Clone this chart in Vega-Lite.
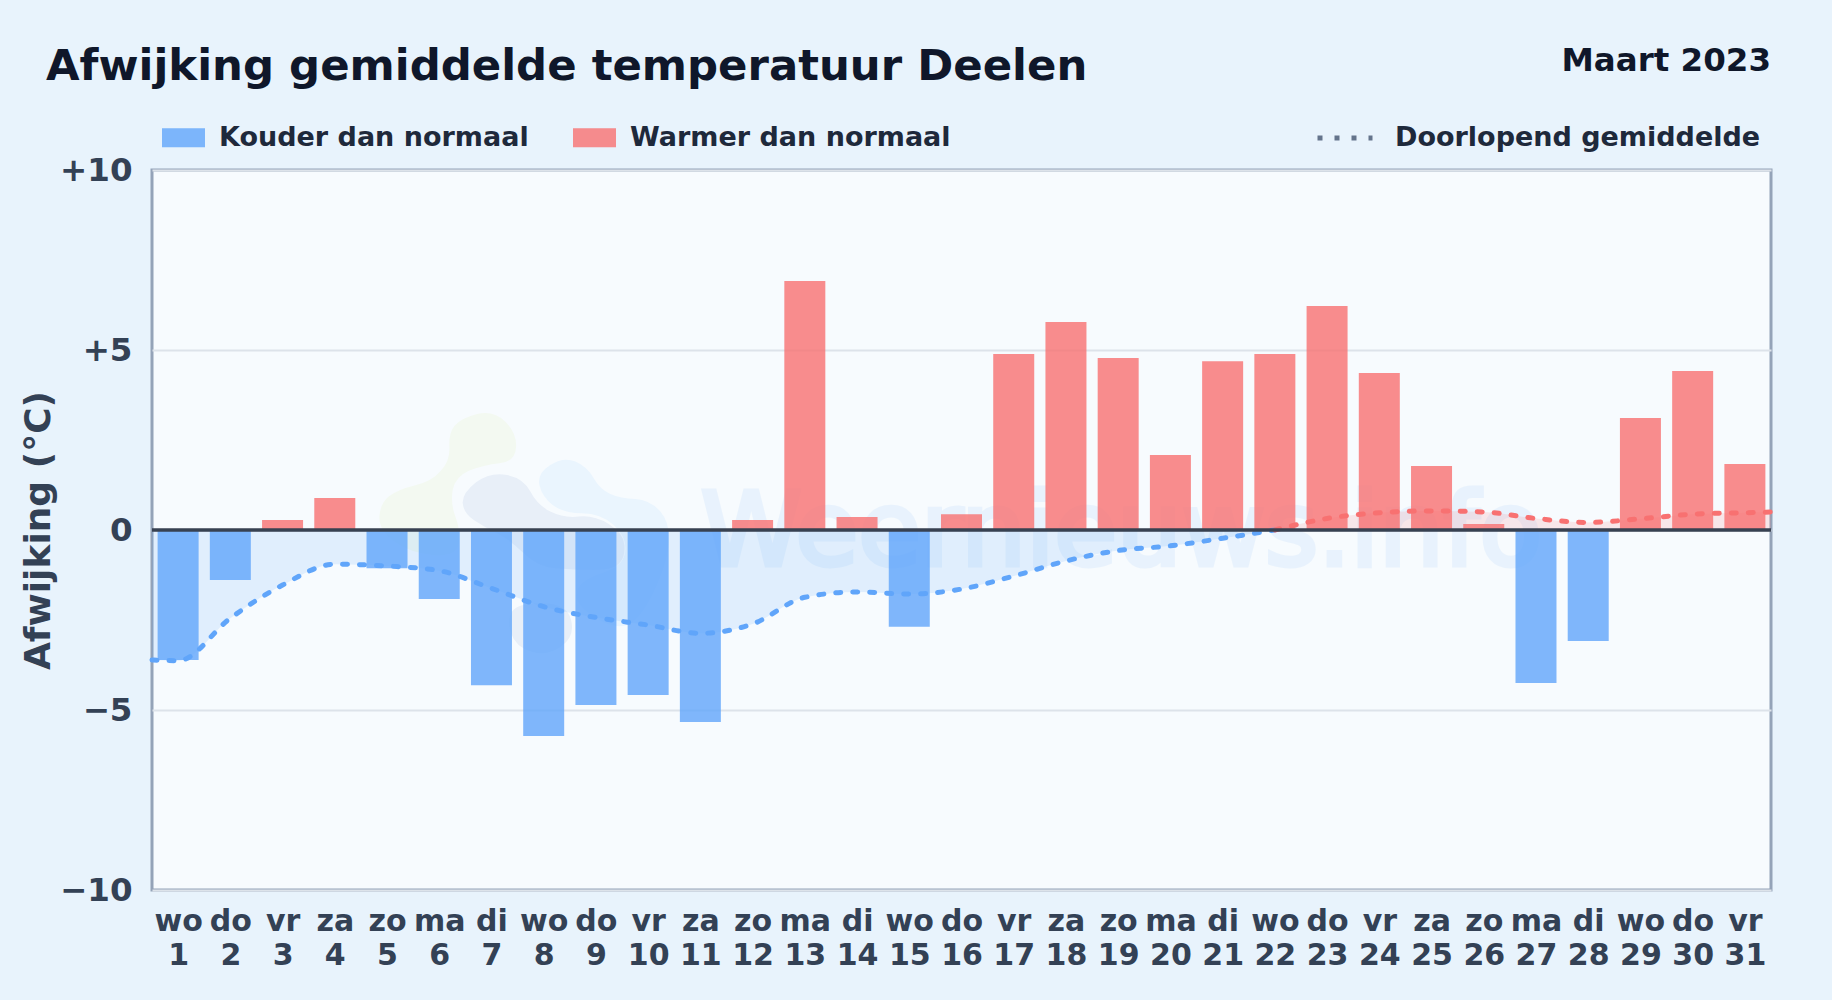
{
 "$schema":"https://vega.github.io/schema/vega-lite/v6.json",
 "width":1619,"height":720,
 "autosize":{"type":"none"},
 "padding":{"left":152,"top":170,"right":61,"bottom":110},
 "background":"#e8f3fc",
 "view":{"fill":"#f7fbfe","stroke":"#94a3b8","strokeWidth":3},
 "title":{"text":"Afwijking gemiddelde temperatuur Deelen","anchor":"start","frame":"group","dx":-106,"offset":-78,"baseline":"alphabetic","font":"DejaVu Sans","fontWeight":"bold","fontSize":43.4,"color":"#0f172a"},
 "config":{"font":"DejaVu Sans"},
 "datasets":{
  "dagen":[
   {"dag":1,"afwijking":-3.61,"categorie":"Kouder dan normaal"},
   {"dag":2,"afwijking":-1.39,"categorie":"Kouder dan normaal"},
   {"dag":3,"afwijking":0.28,"categorie":"Warmer dan normaal"},
   {"dag":4,"afwijking":0.89,"categorie":"Warmer dan normaal"},
   {"dag":5,"afwijking":-1.06,"categorie":"Kouder dan normaal"},
   {"dag":6,"afwijking":-1.92,"categorie":"Kouder dan normaal"},
   {"dag":7,"afwijking":-4.31,"categorie":"Kouder dan normaal"},
   {"dag":8,"afwijking":-5.72,"categorie":"Kouder dan normaal"},
   {"dag":9,"afwijking":-4.86,"categorie":"Kouder dan normaal"},
   {"dag":10,"afwijking":-4.58,"categorie":"Kouder dan normaal"},
   {"dag":11,"afwijking":-5.33,"categorie":"Kouder dan normaal"},
   {"dag":12,"afwijking":0.28,"categorie":"Warmer dan normaal"},
   {"dag":13,"afwijking":6.92,"categorie":"Warmer dan normaal"},
   {"dag":14,"afwijking":0.36,"categorie":"Warmer dan normaal"},
   {"dag":15,"afwijking":-2.69,"categorie":"Kouder dan normaal"},
   {"dag":16,"afwijking":0.44,"categorie":"Warmer dan normaal"},
   {"dag":17,"afwijking":4.89,"categorie":"Warmer dan normaal"},
   {"dag":18,"afwijking":5.78,"categorie":"Warmer dan normaal"},
   {"dag":19,"afwijking":4.78,"categorie":"Warmer dan normaal"},
   {"dag":20,"afwijking":2.08,"categorie":"Warmer dan normaal"},
   {"dag":21,"afwijking":4.69,"categorie":"Warmer dan normaal"},
   {"dag":22,"afwijking":4.89,"categorie":"Warmer dan normaal"},
   {"dag":23,"afwijking":6.22,"categorie":"Warmer dan normaal"},
   {"dag":24,"afwijking":4.36,"categorie":"Warmer dan normaal"},
   {"dag":25,"afwijking":1.78,"categorie":"Warmer dan normaal"},
   {"dag":26,"afwijking":0.17,"categorie":"Warmer dan normaal"},
   {"dag":27,"afwijking":-4.25,"categorie":"Kouder dan normaal"},
   {"dag":28,"afwijking":-3.08,"categorie":"Kouder dan normaal"},
   {"dag":29,"afwijking":3.11,"categorie":"Warmer dan normaal"},
   {"dag":30,"afwijking":4.42,"categorie":"Warmer dan normaal"},
   {"dag":31,"afwijking":1.83,"categorie":"Warmer dan normaal"}
  ],
  "lijn":[
   {"dag":0.5,"gem":-3.61,"teken":"koud","naam":"Doorlopend gemiddelde"},
   {"dag":1,"gem":-3.63,"teken":"koud","naam":"Doorlopend gemiddelde"},
   {"dag":2,"gem":-2.45,"teken":"koud","naam":"Doorlopend gemiddelde"},
   {"dag":3,"gem":-1.53,"teken":"koud","naam":"Doorlopend gemiddelde"},
   {"dag":4,"gem":-0.95,"teken":"koud","naam":"Doorlopend gemiddelde"},
   {"dag":5,"gem":-1.0,"teken":"koud","naam":"Doorlopend gemiddelde"},
   {"dag":6,"gem":-1.13,"teken":"koud","naam":"Doorlopend gemiddelde"},
   {"dag":7,"gem":-1.62,"teken":"koud","naam":"Doorlopend gemiddelde"},
   {"dag":8,"gem":-2.13,"teken":"koud","naam":"Doorlopend gemiddelde"},
   {"dag":9,"gem":-2.43,"teken":"koud","naam":"Doorlopend gemiddelde"},
   {"dag":10,"gem":-2.64,"teken":"koud","naam":"Doorlopend gemiddelde"},
   {"dag":11,"gem":-2.87,"teken":"koud","naam":"Doorlopend gemiddelde"},
   {"dag":12,"gem":-2.61,"teken":"koud","naam":"Doorlopend gemiddelde"},
   {"dag":13,"gem":-1.87,"teken":"koud","naam":"Doorlopend gemiddelde"},
   {"dag":14,"gem":-1.72,"teken":"koud","naam":"Doorlopend gemiddelde"},
   {"dag":15,"gem":-1.78,"teken":"koud","naam":"Doorlopend gemiddelde"},
   {"dag":16,"gem":-1.64,"teken":"koud","naam":"Doorlopend gemiddelde"},
   {"dag":17,"gem":-1.28,"teken":"koud","naam":"Doorlopend gemiddelde"},
   {"dag":18,"gem":-0.86,"teken":"koud","naam":"Doorlopend gemiddelde"},
   {"dag":19,"gem":-0.57,"teken":"koud","naam":"Doorlopend gemiddelde"},
   {"dag":20,"gem":-0.44,"teken":"koud","naam":"Doorlopend gemiddelde"},
   {"dag":21,"gem":-0.23,"teken":"koud","naam":"Doorlopend gemiddelde"},
   {"dag":22,"gem":0,"teken":"koud","naam":"Doorlopend gemiddelde"},
   {"dag":22,"gem":0,"teken":"warm","naam":"Doorlopend gemiddelde"},
   {"dag":23,"gem":0.32,"teken":"warm","naam":"Doorlopend gemiddelde"},
   {"dag":24,"gem":0.48,"teken":"warm","naam":"Doorlopend gemiddelde"},
   {"dag":25,"gem":0.53,"teken":"warm","naam":"Doorlopend gemiddelde"},
   {"dag":26,"gem":0.5,"teken":"warm","naam":"Doorlopend gemiddelde"},
   {"dag":27,"gem":0.32,"teken":"warm","naam":"Doorlopend gemiddelde"},
   {"dag":28,"gem":0.21,"teken":"warm","naam":"Doorlopend gemiddelde"},
   {"dag":29,"gem":0.31,"teken":"warm","naam":"Doorlopend gemiddelde"},
   {"dag":30,"gem":0.44,"teken":"warm","naam":"Doorlopend gemiddelde"},
   {"dag":31,"gem":0.48,"teken":"warm","naam":"Doorlopend gemiddelde"},
   {"dag":31.5,"gem":0.5,"teken":"warm","naam":"Doorlopend gemiddelde"}
  ]
 },
 "layer":[
  {"data":{"values":[{"dag":4.49,"w":3.89}]},
   "mark":{"type":"point","filled":true,"opacity":1,"size":0.4444,"color":"#f3f9f1","shape":"M282,108Q300,85 350,72Q400,60 435,95Q470,130 467,172Q465,215 417,220Q370,225 327,242Q285,260 277,300Q270,340 285,380Q300,420 295,460Q290,500 220,495Q150,490 102,455Q55,420 57,380Q60,340 85,320Q110,300 162,287Q215,275 242,242Q270,210 267,170Q265,130 282,108Z"},
   "encoding":{
    "x":{"field":"dag","type":"quantitative","scale":{"domain":[0.5,31.5],"nice":false,"zero":false,"padding":0},
     "axis":{"title":null,"values":[1,2,3,4,5,6,7,8,9,10,11,12,13,14,15,16,17,18,19,20,21,22,23,24,25,26,27,28,29,30,31],"labelExpr":"[['wo','do','vr','za','zo','ma','di'][(datum.value-1)%7],''+datum.value]","labelFontSize":30,"labelFontWeight":"bold","labelColor":"#334155","labelFont":"DejaVu Sans","labelLineHeight":34,"labelPadding":16,"labelOverlap":false,"labelBound":false,"labelFlush":false,"ticks":false,"domain":false,"grid":false}},
    "y":{"field":"w","type":"quantitative","scale":{"domain":[-10,10],"nice":false},
     "axis":{"title":"Afwijking (°C)","titleFontSize":36,"titleFontWeight":"bold","titleColor":"#334155","titleFont":"DejaVu Sans","titlePadding":2,"values":[-10,-5,0,5,10],"labelExpr":"datum.value>0?'+'+datum.value:(datum.value<0?'−'+abs(datum.value):'0')","labelFontSize":32.5,"labelFontWeight":"bold","labelColor":"#334155","labelFont":"DejaVu Sans","labelPadding":20,"ticks":false,"domain":false,"grid":true,"gridColor":"#dde3ea","gridWidth":2}}}},
  {"data":{"values":[{"dag":4.49,"w":3.89}]},
   "mark":{"type":"point","filled":true,"opacity":1,"size":0.4444,"color":"#eaf5fe","shape":"M537,285Q530,250 570,225Q610,200 645,215Q680,230 700,265Q720,300 750,312Q780,325 825,327Q870,330 900,365Q930,400 925,460Q920,520 880,605Q840,690 800,705Q760,720 700,680Q640,640 650,605Q660,570 725,550Q790,530 795,485Q800,440 760,405Q720,370 665,370Q610,370 577,345Q545,320 537,285Z"},
   "encoding":{"x":{"field":"dag","type":"quantitative"},"y":{"field":"w","type":"quantitative"}}},
  {"data":{"values":[{"dag":4.49,"w":3.89}]},
   "mark":{"type":"point","filled":true,"opacity":1,"size":0.4444,"color":"#e8eff8","shape":"M307,340Q305,310 347,277Q390,245 440,255Q490,265 510,305Q530,345 570,365Q610,385 655,380Q700,375 745,402Q790,430 792,465Q795,500 777,520Q760,540 700,540Q640,540 585,535Q530,530 490,490Q450,450 410,430Q370,410 340,390Q310,370 307,340Z"},
   "encoding":{"x":{"field":"dag","type":"quantitative"},"y":{"field":"w","type":"quantitative"}}},
  {"data":{"values":[{"dag":4.49,"w":3.89}]},
   "mark":{"type":"point","filled":true,"opacity":1,"size":0.4444,"color":"#e8eff8","shape":"M455,665Q470,640 545,640Q620,640 632,690Q645,740 602,770Q560,800 512,785Q465,770 452,730Q440,690 455,665Z"},
   "encoding":{"x":{"field":"dag","type":"quantitative"},"y":{"field":"w","type":"quantitative"}}},
  {"data":{"values":[{"dag":19.06,"w":-0.97,"tekst":"Weernieuws.info"}]},
   "mark":{"type":"text","font":"DejaVu Sans","fontSize":102,"fontWeight":"normal","align":"center","baseline":"alphabetic","color":"#60a5fa","stroke":"#60a5fa","strokeWidth":5,"opacity":0.09},
   "encoding":{"x":{"field":"dag","type":"quantitative"},"y":{"field":"w","type":"quantitative"},"text":{"field":"tekst"}}},
  {"data":{"name":"lijn"},"transform":[{"filter":"datum.teken==='koud'"}],
   "mark":{"type":"area","interpolate":"monotone","color":"#60a5fa","opacity":0.15},
   "encoding":{"x":{"field":"dag","type":"quantitative"},"y":{"field":"gem","type":"quantitative"},"y2":{"datum":0}}},
  {"data":{"name":"lijn"},"transform":[{"filter":"datum.teken==='warm'"}],
   "mark":{"type":"area","interpolate":"monotone","color":"#f87171","opacity":0.15},
   "encoding":{"x":{"field":"dag","type":"quantitative"},"y":{"field":"gem","type":"quantitative"},"y2":{"datum":0}}},
  {"data":{"name":"dagen"},
   "mark":{"type":"bar","size":41,"opacity":0.8},
   "encoding":{"x":{"field":"dag","type":"quantitative"},"y":{"field":"afwijking","type":"quantitative"},
    "fill":{"field":"categorie","type":"nominal","scale":{"domain":["Kouder dan normaal","Warmer dan normaal"],"range":["#60a5fa","#f87171"]},
     "legend":{"title":null,"orient":"none","legendX":10,"legendY":-54,"direction":"horizontal","symbolType":"M-1,-0.44H1V0.44H-1Z","symbolSize":1849,"symbolOpacity":0.8,"symbolStrokeWidth":0,"labelFont":"DejaVu Sans","labelFontWeight":"bold","labelFontSize":27,"labelColor":"#1e293b","labelOffset":14,"labelLimit":500,"columnPadding":44,"padding":0}}}},
  {"data":{"name":"lijn"},"transform":[{"filter":"datum.teken==='koud'"}],
   "mark":{"type":"line","interpolate":"monotone","color":"#60a5fa","strokeWidth":5,"strokeCap":"round"},
   "encoding":{"x":{"field":"dag","type":"quantitative"},"y":{"field":"gem","type":"quantitative"},
    "strokeDash":{"field":"naam","type":"nominal","scale":{"domain":["Doorlopend gemiddelde"],"range":[[5,12]]},
     "legend":{"title":null,"orient":"none","legendX":1163,"legendY":-62,"symbolType":"stroke","symbolSize":3025,"symbolStrokeColor":"#64748b","symbolStrokeWidth":5,"labelFont":"DejaVu Sans","labelFontWeight":"bold","labelFontSize":27,"labelColor":"#1e293b","labelOffset":20,"labelLimit":500,"padding":0}}}},
  {"data":{"name":"lijn"},"transform":[{"filter":"datum.teken==='warm'"}],
   "mark":{"type":"line","interpolate":"monotone","color":"#f87171","strokeWidth":5,"strokeCap":"round"},
   "encoding":{"x":{"field":"dag","type":"quantitative"},"y":{"field":"gem","type":"quantitative"},
    "strokeDash":{"field":"naam","type":"nominal","legend":null}}},
  {"data":{"values":[{"nul":0}]},
   "mark":{"type":"rule","color":"#374151","strokeWidth":3.5},
   "encoding":{"y":{"field":"nul","type":"quantitative"}}},
  {"data":{"values":[{"dag":31.5,"w":12.75,"tekst":"Maart 2023"}]},
   "mark":{"type":"text","font":"DejaVu Sans","fontSize":32.5,"fontWeight":"bold","align":"right","baseline":"alphabetic","color":"#0f172a"},
   "encoding":{"x":{"field":"dag","type":"quantitative"},"y":{"field":"w","type":"quantitative"},"text":{"field":"tekst"}}}
 ]
}
